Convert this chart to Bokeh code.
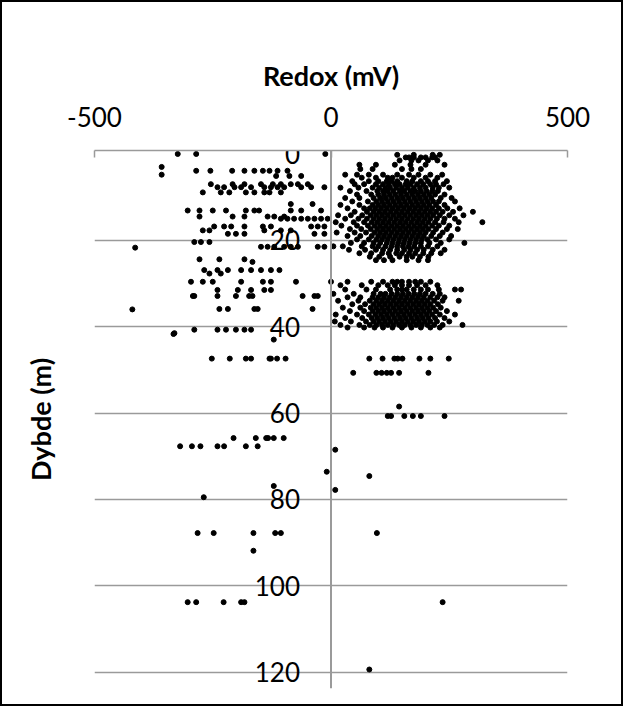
from bokeh.plotting import figure
from bokeh.models import Range1d, FixedTicker, Span
from bokeh.embed import file_html
from bokeh.resources import INLINE
from bokeh.core.properties import value

x_ticks = [-500, 0, 500]
y_ticks = [0, 20, 40, 60, 80, 100, 120]

# rows: (depth m, redox values mV)
rows_left = [
    (0.0, [-324, -285, -12]),
    (3.0, [-358]), (4.8, [-358]),
    (3.9, [-285, -255, -209, -183, -162, -144, -130, -113, -92]),
    (5.1, [-116, -88, -63]),
    (7.0, [-254, -208, -183, -148, -123, -106, -85, -70, -49]),
    (7.7, [-240, -226, -204, -190, -169, -141, -127, -113, -99, -63, -42, -14]),
    (8.9, [-271, -233, -215, -180, -162, -141, -130, -106]),
    (11.6, [-85, -39]),
    (13.1, [-303, -278, -250, -222, -180, -162, -152, -85, -63, -21]),
    (14.5, [-278, -208, -183, -134, -120, -99]),
    (15.0, [-106, -92, -78, -63, -49, -35, -21, -7]),
    (16.8, [-247, -226, -211, -183, -144, -127, -42, -28, -14]),
    (17.7, [-271, -257, -141, -106, -85]),
    (18.5, [-218, -201, -183, -35, -14]),
    (20.4, [-289, -275, -257]),
    (21.5, [-148, -134, -120, -99, -85, -70, -28, -14]),
    (21.7, [-414]),
    (24.4, [-278, -236, -183]),
    (25.0, [-166]),
    (26.9, [-268, -240, -218, -190, -169, -148, -127, -109]),
    (27.7, [-257, -233]),
    (29.6, [-296, -271, -250, -190, -144, -127, -74]),
    (31.5, [-240, -197, -169, -141, -127]),
    (32.9, [-292, -289, -240, -201, -173, -166, -60, -35, -28]),
    (35.9, [-236, -218, -162, -155, -39]),
    (36.0, [-420]),
    (40.7, [-289, -240, -222, -201, -183, -169]),
    (41.5, [-331]), (41.7, [-333]),
    (43.0, [-121]),
    (47.4, [-252, -214, -180, -169, -130, -127, -114, -96]),
    (65.8, [-206, -159, -137, -133, -121, -100]),
    (67.7, [-319, -294, -276, -240, -226, -180, -155]),
    (73.6, [-9]),
    (76.9, [-121]),
    (79.5, [-269]),
    (87.8, [-282, -248, -164, -118, -106]),
    (91.9, [-164]),
    (103.8, [-303, -285, -227, -190, -183]),
]

rows_right = [
    (0.2, [140, 175, 215, 230]),
    (0.8, [158, 165, 175, 190, 200, 214, 220]),
    (1.5, [145, 170, 185, 205, 225]),
    (2.5, [60, 95, 135, 168, 200, 240]),
    (3.5, [62, 88, 150, 170, 190]),
    (4.8, [30, 55, 80, 110, 140, 165, 185, 210, 235]),
    (5.5, [65, 95, 120, 130, 150, 175, 200, 225]),
    (6.3, [45, 80, 100, 118, 128, 140, 160, 172, 190, 205, 220, 245]),
    (7.0, [50, 70, 95, 110, 122, 135, 145, 158, 168, 182, 195, 210, 222, 238]),
    (7.8, [20, 58, 88, 102, 115, 125, 138, 150, 162, 175, 188, 200, 215, 228, 250]),
    (8.6, [40, 75, 98, 110, 120, 132, 145, 155, 168, 178, 190, 202, 214, 226]),
    (9.4, [55, 85, 100, 112, 124, 136, 148, 160, 172, 184, 196, 208, 220, 240]),
    (10.2, [30, 60, 90, 104, 116, 128, 140, 152, 164, 176, 188, 200, 212, 232, 255]),
    (11.0, [45, 78, 96, 108, 120, 132, 144, 156, 168, 180, 192, 204, 216, 228, 262]),
    (11.8, [20, 60, 88, 100, 112, 124, 136, 148, 160, 172, 184, 196, 208, 222, 240]),
    (12.6, [35, 70, 82, 94, 106, 118, 130, 142, 154, 166, 178, 190, 202, 214, 228, 246, 272]),
    (13.4, [50, 76, 90, 102, 114, 126, 138, 150, 162, 174, 186, 198, 210, 222, 236, 258, 300]),
    (14.2, [15, 42, 66, 84, 96, 108, 120, 132, 144, 156, 168, 180, 192, 204, 216, 230, 250, 280]),
    (15.0, [30, 58, 76, 90, 102, 114, 126, 138, 150, 162, 174, 186, 198, 210, 224, 240, 262]),
    (15.8, [10, 48, 70, 86, 98, 110, 122, 134, 146, 158, 170, 182, 194, 206, 220, 238, 270, 320]),
    (16.6, [22, 55, 78, 92, 104, 116, 128, 140, 152, 164, 176, 188, 200, 214, 228, 250]),
    (17.4, [40, 64, 84, 98, 110, 122, 134, 146, 158, 170, 182, 194, 206, 222, 245, 268]),
    (18.2, [12, 50, 74, 92, 104, 116, 128, 140, 152, 164, 176, 188, 200, 216, 236]),
    (19.0, [35, 62, 86, 100, 112, 124, 136, 148, 160, 172, 184, 196, 212, 230, 254]),
    (19.8, [55, 80, 96, 108, 120, 132, 144, 156, 168, 180, 192, 204, 222, 250]),
    (20.6, [42, 70, 90, 104, 118, 130, 142, 154, 166, 178, 190, 208, 232, 282]),
    (21.4, [5, 25, 65, 88, 100, 115, 128, 140, 152, 164, 176, 190, 205, 225]),
    (22.2, [38, 72, 95, 110, 125, 140, 155, 168, 182, 196, 215, 240]),
    (23.0, [60, 85, 108, 122, 138, 150, 165, 178, 195, 212, 232]),
    (23.8, [82, 102, 125, 145, 160, 172, 188, 206]),
    (24.6, [95, 112, 130, 160, 185, 205]),
    (29.6, [0, 35, 85, 110, 130, 140, 150, 165, 178, 190, 210]),
    (30.4, [20, 65, 100, 120, 135, 150, 165, 182, 200, 225]),
    (31.4, [30, 75, 95, 125, 140, 150, 160, 175, 190, 205, 228, 262, 275]),
    (32.4, [5, 48, 90, 105, 115, 128, 140, 152, 164, 176, 188, 200, 215, 230]),
    (33.2, [35, 62, 88, 100, 112, 124, 136, 148, 160, 172, 184, 196, 210, 225, 240]),
    (34.0, [15, 58, 82, 96, 108, 120, 132, 144, 156, 168, 180, 192, 204, 218, 236, 270]),
    (34.8, [45, 72, 90, 102, 114, 126, 138, 150, 162, 174, 186, 198, 210, 226]),
    (35.6, [25, 62, 84, 96, 108, 120, 132, 144, 156, 168, 180, 192, 204, 216, 232]),
    (36.4, [40, 70, 88, 100, 112, 124, 136, 148, 160, 172, 184, 196, 208, 222, 245]),
    (37.2, [10, 55, 80, 94, 106, 118, 130, 142, 154, 166, 178, 190, 202, 214, 230, 262]),
    (38.0, [30, 66, 86, 98, 110, 122, 134, 146, 158, 170, 182, 194, 206, 220, 240]),
    (38.8, [8, 42, 74, 90, 102, 114, 126, 138, 150, 162, 174, 186, 198, 210, 224, 250]),
    (39.6, [20, 60, 82, 96, 108, 120, 132, 144, 156, 168, 180, 192, 204, 218, 236, 278]),
    (40.2, [35, 70, 92, 110, 130, 150, 170, 190, 210, 230]),
    (47.4, [81, 109, 134, 141, 151, 187, 210, 249]),
    (50.7, [47, 96, 107, 118, 127, 144, 206]),
    (58.5, [144]),
    (60.7, [120, 127, 155, 173, 190, 240]),
    (68.5, [9]),
    (74.6, [81]),
    (77.8, [9]),
    (87.8, [97]),
    (103.8, [236]),
    (119.4, [81]),
]

xs, ys = [], []
for d, vals in rows_left + rows_right:
    for v in vals:
        xs.append(v)
        ys.append(d)

FONT = "Lato"
p = figure(width=623, height=706, output_backend="svg", toolbar_location=None,
           x_range=Range1d(-500, 500), y_range=Range1d(123.8, -0.8),
           x_axis_location="above",
           min_border_left=92, min_border_right=58, min_border_top=148, min_border_bottom=20)
p.styles = {"border": "2px solid black"}
p.outline_line_color = None
p.background_fill_color = "white"

ax = p.xaxis[0]
ax.ticker = FixedTicker(ticks=x_ticks)
ax.major_label_overrides = {-500: "-500", 0: "0", 500: "500"}
ax.axis_line_color = "#9a9a9a"
ax.axis_line_width = 1.5
ax.major_tick_line_color = "#9a9a9a"
ax.major_tick_line_width = 1.5
ax.major_tick_in = 7
ax.major_tick_out = 0
ax.minor_tick_line_color = None
ax.major_label_text_font = FONT
ax.major_label_text_font_size = "26px"
ax.major_label_text_color = "black"
ax.major_label_standoff = 24
ax.axis_label = "Redox (mV)"
ax.axis_label_text_font = FONT
ax.axis_label_text_font_style = "bold"
ax.axis_label_text_font_size = "27px"
ax.axis_label_text_color = "black"
ax.axis_label_standoff = 12

ya = p.yaxis[0]
ya.ticker = FixedTicker(ticks=[])
ya.axis_line_color = None
ya.major_tick_line_color = None
ya.minor_tick_line_color = None
ya.major_label_text_font_size = "0px"
ya.axis_label = "Dybde (m)"
ya.axis_label_text_font = FONT
ya.axis_label_text_font_style = "bold"
ya.axis_label_text_font_size = "27px"
ya.axis_label_text_color = "black"
ya.axis_label_standoff = 38

p.xgrid.grid_line_color = None
p.ygrid.ticker = FixedTicker(ticks=y_ticks[1:])
p.ygrid.grid_line_color = "#9a9a9a"
p.ygrid.grid_line_width = 1.5

p.add_layout(Span(location=0, dimension="height", line_color="#9a9a9a", line_width=2))

p.scatter(xs, ys, size=5, color="black")

p.text(x=[0] * len(y_ticks), y=y_ticks, text=[str(t) for t in y_ticks],
       text_align="right", text_baseline="middle", x_offset=-31,
       text_font=value(FONT), text_font_size="26px", text_color="black")

open("out.html", "w").write(file_html(p, INLINE))
